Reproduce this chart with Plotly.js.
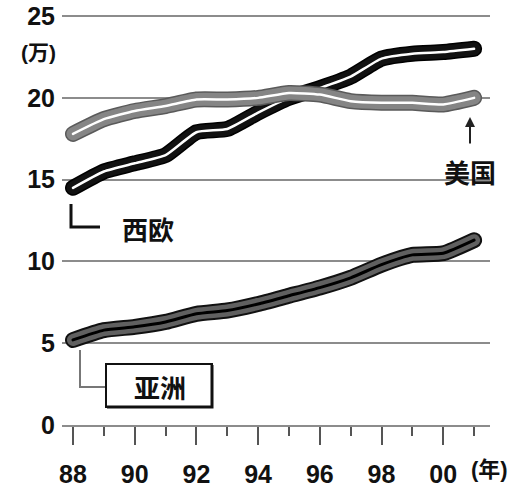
<!DOCTYPE html>
<html><head><meta charset="utf-8">
<script src="https://cdn.plot.ly/plotly-3.0.1.min.js"></script>
<style>
html,body{margin:0;padding:0;background:#fff}
#chart{width:519px;height:492px}
.js-line{stroke-linecap:round!important;stroke-linejoin:round!important}
</style></head><body><div id="chart"></div>
<script>
const years = [1988,1989,1990,1991,1992,1993,1994,1995,1996,1997,1998,1999,2000,2001];
const tickYears = [1988,1990,1992,1994,1996,1998,2000];
const tickLabels = ['88','90','92','94','96','98','00'];
const yTicks = [0,5,10,15,20,25];
const westEurope = [14.5,15.5,16.0,16.5,17.9,18.1,19.1,20.0,20.6,21.3,22.4,22.7,22.8,23.0];
const usa = [17.8,18.7,19.2,19.5,19.9,19.9,20.0,20.3,20.2,19.8,19.7,19.7,19.6,20.0];
const asia = [5.2,5.8,6.0,6.3,6.8,7.0,7.4,7.9,8.4,9.0,9.8,10.4,10.5,11.3];
const names = {we:'西欧', us:'美国', as:'亚洲'};

const L=62, R=490, T=12, B=425;
const PX = x => (x-L)/(R-L);
const PY = y => (B-y)/(B-T);

function band(y, layers){
  return layers.map(([c,w]) => ({x:years, y:y, type:'scatter', mode:'lines',
    line:{color:c, width:w, shape:'spline', smoothing:0.5}, hoverinfo:'skip', showlegend:false}));
}
const data = [].concat(
  band(westEurope, [['#000',16],['#111',13],['#fff',2.5]]),
  band(usa, [['#5a5a5a',16],['#858585',13],['#fff',2.5]]),
  band(asia, [['#111',16],['#606060',12],['#000',3]])
);

const tf = {family:'Liberation Sans, Arial, sans-serif', size:25, color:'#111', weight:'bold'};
const cjk = {family:'Noto Sans CJK SC, sans-serif', size:26, color:'#111', weight:'bold'};
function ann(text, x, y, font){
  return {text:text, xref:'paper', yref:'paper', x:PX(x), y:PY(y), xanchor:'center', yanchor:'middle', showarrow:false, font:font};
}
function path(pts){
  return pts.map((p,i)=>(i?'L':'M')+PX(p[0])+','+PY(p[1])).join(' ');
}
const layout = {
  width:519, height:492,
  margin:{l:L, r:519-R, t:T, b:492-B},
  paper_bgcolor:'#fff', plot_bgcolor:'#fff',
  showlegend:false,
  xaxis:{range:[1987.643,2001.516], tickvals:tickYears, ticktext:tickLabels,
    ticks:'outside', ticklen:18, tickwidth:2, tickcolor:'#555',
    showline:true, linecolor:'#8c8c8c', linewidth:2, showgrid:false, zeroline:false,
    tickfont:tf, ticklabelstandoff:8,
    minor:{tickvals:[1989,1991,1993,1995,1997,1999,2001], ticks:'outside', ticklen:9, tickwidth:2, tickcolor:'#555', showgrid:false},
    fixedrange:true},
  yaxis:{range:[0,25.25], tickvals:yTicks, ticktext:yTicks.map(String),
    showgrid:true, gridcolor:'#8c8c8c', gridwidth:2, zeroline:false, showline:false,
    ticks:'', tickfont:tf, ticklabelstandoff:6, fixedrange:true},
  annotations:[
    ann('(万)',38,52,{family:'Liberation Sans, Noto Sans CJK SC', size:21, color:'#111', weight:'bold'}),
    ann(names.we,148,228,cjk),
    ann(names.us,470,171,cjk),
    ann(names.as,160,386,cjk),
    ann('(年)',489,469,{family:'Liberation Sans, Noto Sans CJK SC', size:22, color:'#111', weight:'bold'}),
    {text:'', xref:'paper', yref:'paper', x:PX(470), y:PY(117), showarrow:true, ax:0, ay:28,
     axref:'pixel', ayref:'pixel', arrowhead:2, arrowsize:1, arrowwidth:2, arrowcolor:'#222'}
  ],
  shapes:[
    {type:'path', xref:'paper', yref:'paper', path:path([[71,204],[71,227],[100,227]]), line:{color:'#111', width:3}},
    {type:'path', xref:'paper', yref:'paper', path:path([[80,350],[80,387],[106,387]]), line:{color:'#777', width:2}},
    {type:'rect', xref:'paper', yref:'paper', x0:PX(106), x1:PX(212), y0:PY(407), y1:PY(364), line:{color:'#111', width:2}, fillcolor:'#fff'},
    {type:'path', xref:'paper', yref:'paper', path:path([[107,407],[212,407],[212,365]]), line:{color:'#111', width:3}}
  ]
};
Plotly.newPlot('chart', data, layout, {displayModeBar:false, staticPlot:true});
</script></body></html>
